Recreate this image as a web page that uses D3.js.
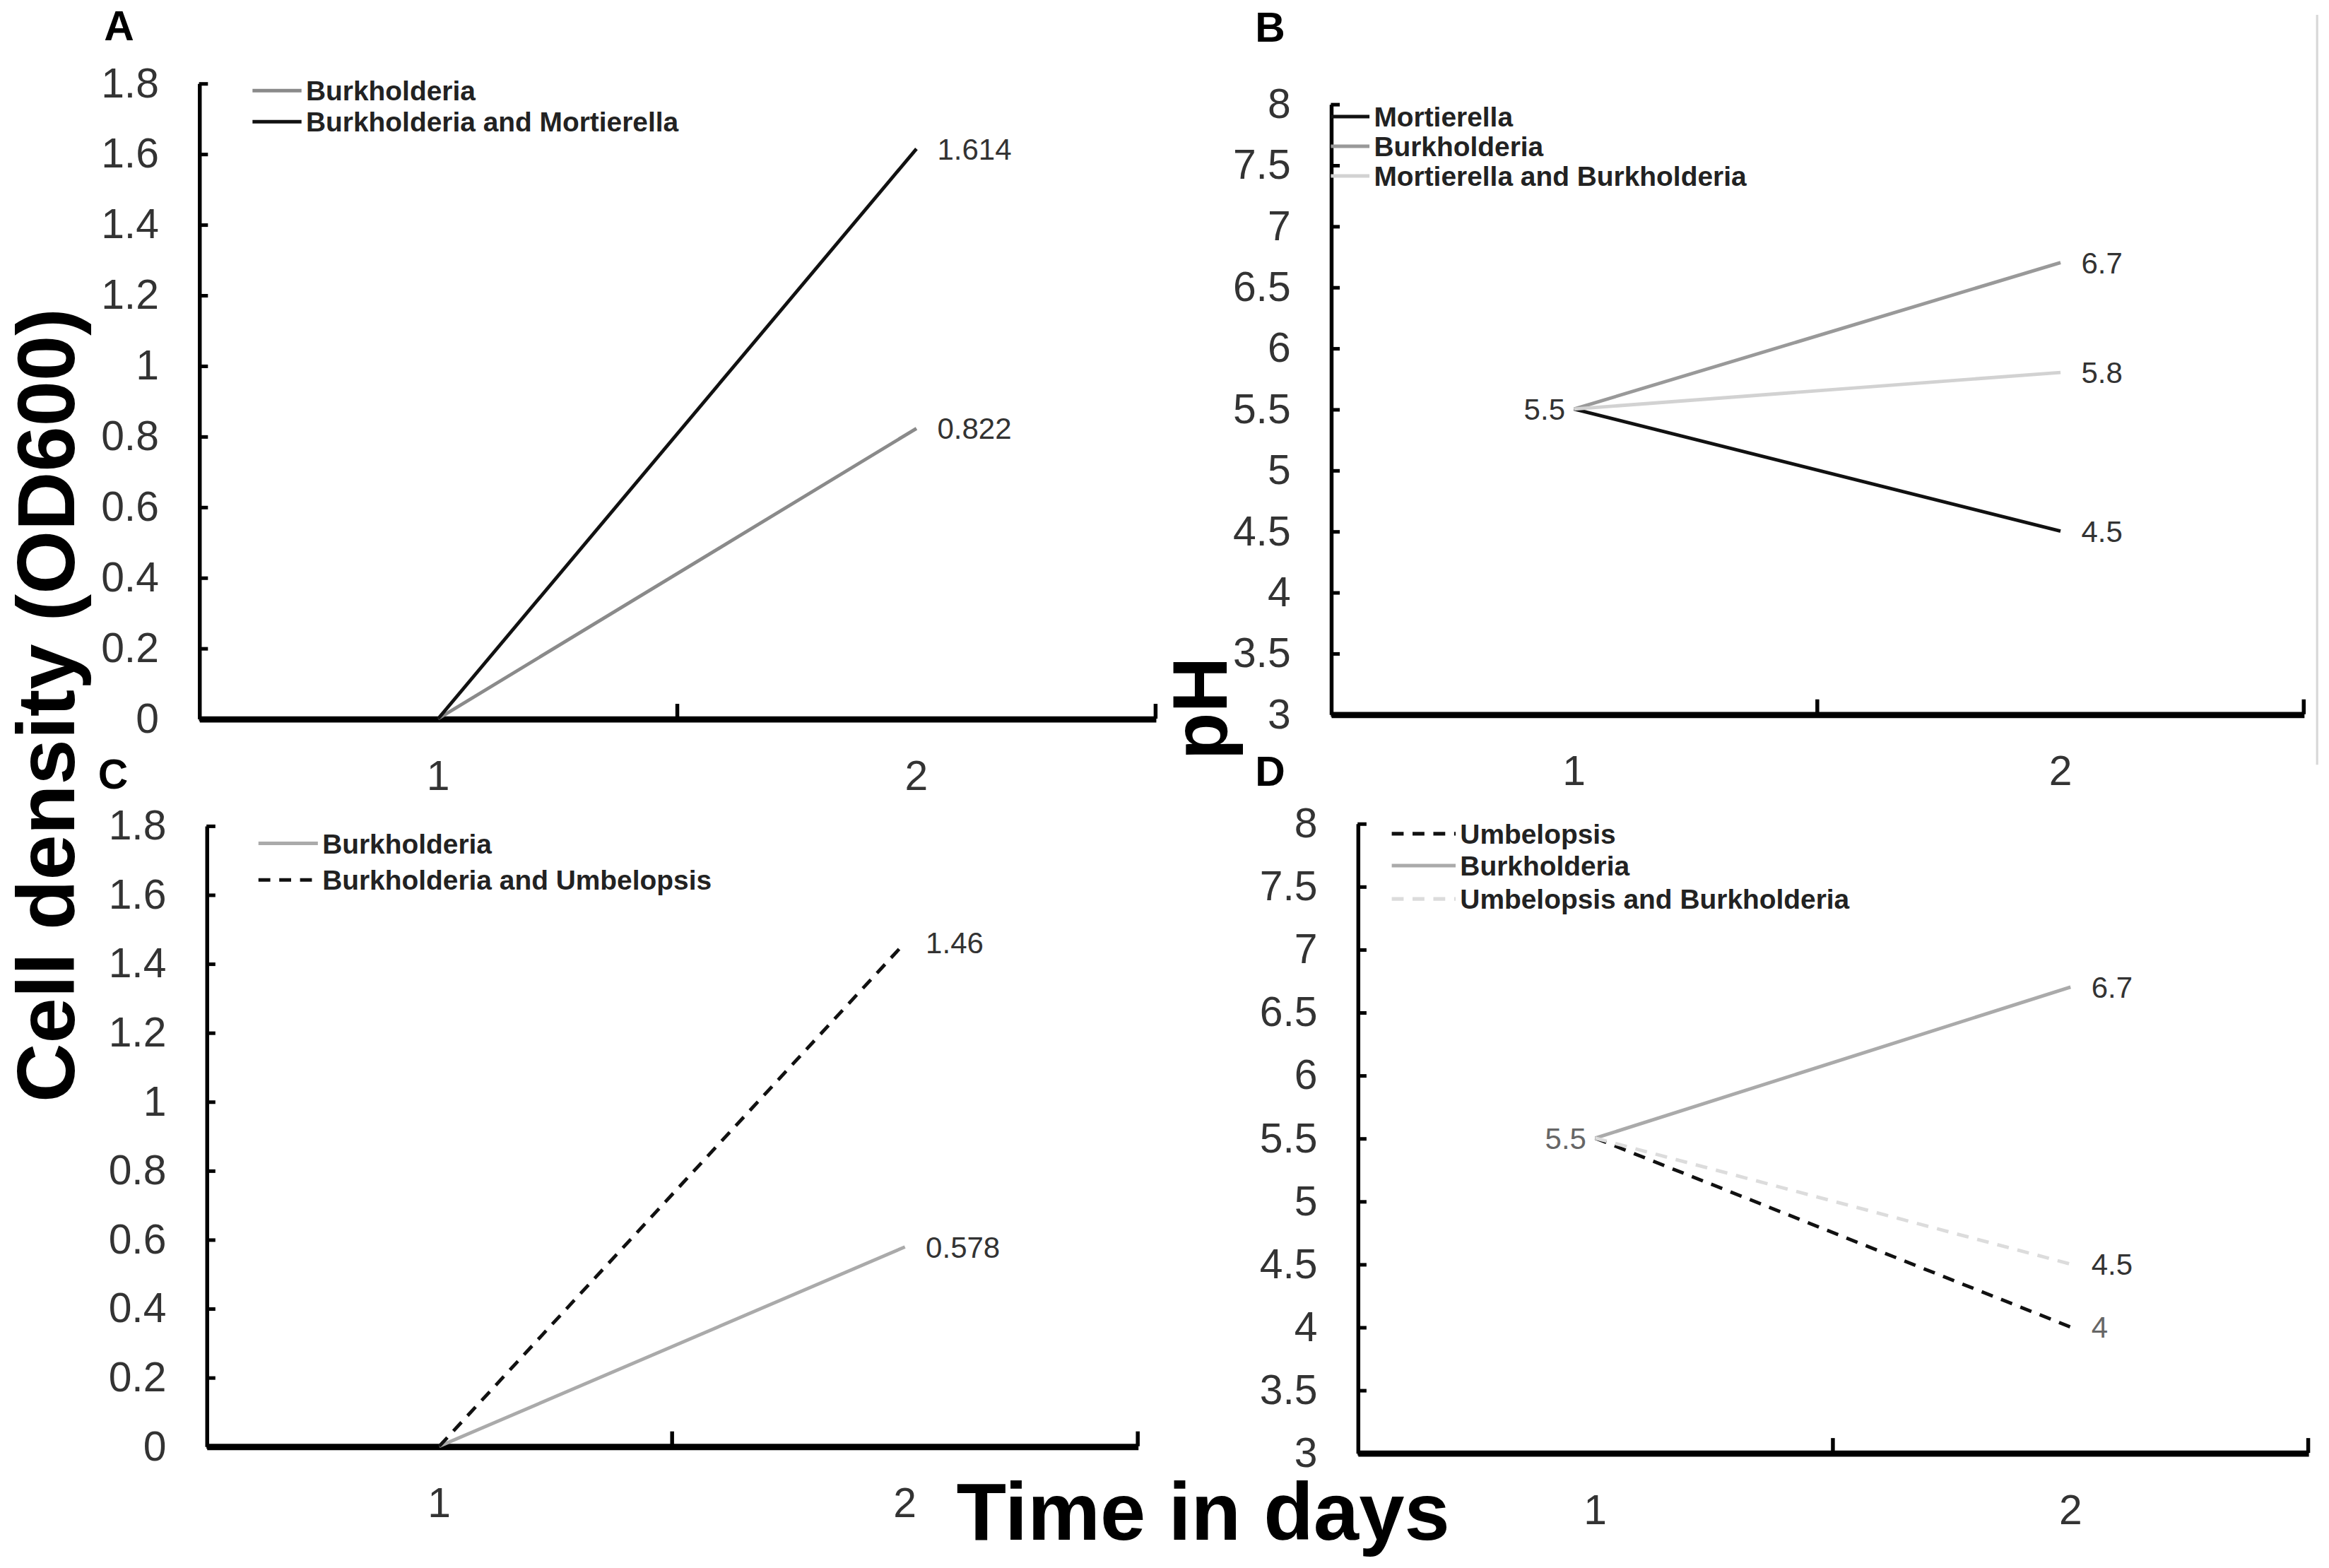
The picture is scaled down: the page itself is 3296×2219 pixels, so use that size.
<!DOCTYPE html>
<html>
<head>
<meta charset="utf-8">
<script src="https://cdn.jsdelivr.net/npm/d3@7.8.5/dist/d3.min.js"></script>
<style>
  html, body { margin: 0; padding: 0; background: #fff; overflow: hidden; }
  svg { display: block; }
  .tick text { font-family: "Liberation Sans", Arial, sans-serif; fill: #333; }
</style>
</head>
<body>
<div id="chart"></div>
<script>
// ---- data ----
const days = ["1", "2"];
const odTicks = [0, 0.2, 0.4, 0.6, 0.8, 1, 1.2, 1.4, 1.6, 1.8];
const phTicks = [3, 3.5, 4, 4.5, 5, 5.5, 6, 6.5, 7, 7.5, 8];

const aBurkholderia = [0, 0.822];
const aBurkMortierella = [0, 1.614];

const bMortierella = [5.5, 4.5];
const bBurkholderia = [5.5, 6.7];
const bMortBurkholderia = [5.5, 5.8];

const cBurkholderia = [0, 0.578];
const cBurkUmbelopsis = [0, 1.46];

const dUmbelopsis = [5.5, 4];
const dBurkholderia = [5.5, 6.7];
const dUmbBurkholderia = [5.5, 4.5];

// ---- page ----
const W = 3296, H = 2219;
const VW = 1568, VH = 1056; // drawing units

const svg = d3.select("#chart")
  .append("svg")
  .attr("width", W)
  .attr("height", H)
  .attr("viewBox", `0 0 ${VW} ${VH}`)
  .attr("preserveAspectRatio", "none");

const panels = [
  {
    letter: "A", letterX: 70, letterY: 27,
    box: { left: 134, right: 778, top: 56, bottom: 484 },
    domain: [0, 1.8], ticks: odTicks,
    legend: { x0: 170, x1: 203, ys: [61, 82] },
    series: [
      { name: "Burkholderia", values: aBurkholderia, color: "#8a8a8a", dash: null, end: "0.822" },
      { name: "Burkholderia and Mortierella", values: aBurkMortierella, color: "#111", dash: null, end: "1.614" },
    ],
    startLabel: null,
  },
  {
    letter: "B", letterX: 845, letterY: 28,
    box: { left: 896, right: 1551, top: 70, bottom: 481 },
    domain: [3, 8], ticks: phTicks,
    legend: { x0: 896, x1: 922, ys: [78.5, 98.5, 118.5] },
    series: [
      { name: "Mortierella", values: bMortierella, color: "#111", dash: null, end: "4.5" },
      { name: "Burkholderia", values: bBurkholderia, color: "#999", dash: null, end: "6.7" },
      { name: "Mortierella and Burkholderia", values: bMortBurkholderia, color: "#d2d2d2", dash: null, end: "5.8" },
    ],
    startLabel: { text: "5.5", color: "#333" },
  },
  {
    letter: "C", letterX: 66, letterY: 531,
    box: { left: 139, right: 766, top: 556, bottom: 974 },
    domain: [0, 1.8], ticks: odTicks,
    legend: { x0: 174, x1: 214, ys: [568, 592.6] },
    series: [
      { name: "Burkholderia", values: cBurkholderia, color: "#aaa", dash: null, end: "0.578" },
      { name: "Burkholderia and Umbelopsis", values: cBurkUmbelopsis, color: "#111", dash: "8,6", end: "1.46" },
    ],
    startLabel: null,
  },
  {
    letter: "D", letterX: 845, letterY: 529,
    box: { left: 914, right: 1554, top: 554.5, bottom: 978.5 },
    domain: [3, 8], ticks: phTicks,
    legend: { x0: 937, x1: 980, ys: [561.5, 583, 605.4] },
    series: [
      { name: "Umbelopsis", values: dUmbelopsis, color: "#111", dash: "8,6", end: "4", endColor: "#666" },
      { name: "Burkholderia", values: dBurkholderia, color: "#aaa", dash: null, end: "6.7" },
      { name: "Umbelopsis and Burkholderia", values: dUmbBurkholderia, color: "#dcdcdc", dash: "8,6", end: "4.5" },
    ],
    startLabel: { text: "5.5", color: "#666" },
  },
];

panels.forEach(drawPanel);

function drawPanel(p) {
  const g = svg.append("g");
  const b = p.box;

  const x = d3.scaleBand().domain(days).range([b.left, b.right]).padding(0);
  const y = d3.scaleLinear().domain(p.domain).range([b.bottom, b.top]);
  const cx = (d) => x(d) + x.bandwidth() / 2;

  // y axis with inward ticks
  const yAxis = g.append("g")
    .attr("transform", `translate(${b.left},0)`)
    .call(
      d3.axisLeft(y)
        .tickValues(p.ticks)
        .tickFormat(d3.format("~g"))
        .tickSize(-6)
        .tickSizeOuter(0)
        .tickPadding(27),
    );
  yAxis.select(".domain").attr("stroke", "#000").attr("stroke-width", 2.6);
  yAxis.selectAll(".tick line").attr("stroke", "#000").attr("stroke-width", 2.4);
  yAxis.selectAll(".tick text").style("font-size", "28px");

  // x axis: labels at band centres, ticks on band boundaries
  const xAxis = g.append("g")
    .attr("transform", `translate(0,${b.bottom})`)
    .call(d3.axisBottom(x).tickSize(0).tickSizeOuter(0).tickPadding(28));
  xAxis.select(".domain").attr("stroke", "#000").attr("stroke-width", 4.2);
  xAxis.selectAll(".tick text").style("font-size", "28px");

  const bounds = days.map((d) => x(d)).concat([x(days[days.length - 1]) + x.bandwidth()]);
  g.selectAll(".xbound")
    .data(bounds.slice(1))
    .enter()
    .append("line")
    .attr("x1", (d) => d)
    .attr("x2", (d) => d)
    .attr("y1", b.bottom)
    .attr("y2", b.bottom - 10)
    .attr("stroke", "#000")
    .attr("stroke-width", 2.6);

  // series lines
  const line = d3.line().x((d) => cx(d.day)).y((d) => y(d.v));
  p.series.forEach((s) => {
    const pts = days.map((d, i) => ({ day: d, v: s.values[i] }));
    g.append("path")
      .datum(pts)
      .attr("d", line)
      .attr("fill", "none")
      .attr("stroke", s.color)
      .attr("stroke-width", 2.3)
      .attr("stroke-dasharray", s.dash);

    g.append("text")
      .attr("x", cx(days[1]) + 14)
      .attr("y", y(s.values[1]))
      .attr("dy", "0.36em")
      .style("font-family", "Liberation Sans, Arial, sans-serif")
      .style("font-size", "20px")
      .style("fill", s.endColor || "#333")
      .text(s.end);
  });

  if (p.startLabel) {
    g.append("text")
      .attr("x", cx(days[0]) - 6)
      .attr("y", y(p.series[0].values[0]))
      .attr("dy", "0.36em")
      .attr("text-anchor", "end")
      .style("font-family", "Liberation Sans, Arial, sans-serif")
      .style("font-size", "20px")
      .style("fill", p.startLabel.color)
      .text(p.startLabel.text);
  }

  // legend
  const lg = g.append("g");
  p.series.forEach((s, i) => {
    const ly = p.legend.ys[i];
    lg.append("line")
      .attr("x1", p.legend.x0)
      .attr("x2", p.legend.x1)
      .attr("y1", ly)
      .attr("y2", ly)
      .attr("stroke", s.color)
      .attr("stroke-width", 2.4)
      .attr("stroke-dasharray", s.dash);
    lg.append("text")
      .attr("x", p.legend.x1 + 3)
      .attr("y", ly)
      .attr("dy", "0.36em")
      .style("font-family", "Liberation Sans, Arial, sans-serif")
      .style("font-weight", "bold")
      .style("font-size", "18.5px")
      .style("fill", "#222")
      .text(s.name);
  });

  // panel letter
  svg.append("text")
    .attr("x", p.letterX)
    .attr("y", p.letterY)
    .style("font-family", "Liberation Sans, Arial, sans-serif")
    .style("font-weight", "bold")
    .style("font-size", "28px")
    .style("fill", "#000")
    .text(p.letter);
}

// faint border line at the right of panel B
svg.append("line")
  .attr("x1", 1560).attr("x2", 1560)
  .attr("y1", 10).attr("y2", 515)
  .attr("stroke", "#d8d8d8")
  .attr("stroke-width", 1.5);

// shared axis titles
svg.append("text")
  .attr("transform", "translate(50,475) rotate(-90)")
  .attr("text-anchor", "middle")
  .style("font-family", "Liberation Sans, Arial, sans-serif")
  .style("font-weight", "bold")
  .style("font-size", "55px")
  .style("fill", "#000")
  .text("Cell density (OD600)");

svg.append("text")
  .attr("transform", "translate(826,477) rotate(-90)")
  .attr("text-anchor", "middle")
  .style("font-family", "Liberation Sans, Arial, sans-serif")
  .style("font-weight", "bold")
  .style("font-size", "52px")
  .style("fill", "#000")
  .text("pH");

svg.append("text")
  .attr("x", 810)
  .attr("y", 1037)
  .attr("text-anchor", "middle")
  .style("font-family", "Liberation Sans, Arial, sans-serif")
  .style("font-weight", "bold")
  .style("font-size", "55px")
  .style("fill", "#000")
  .text("Time in days");
</script>
</body>
</html>
